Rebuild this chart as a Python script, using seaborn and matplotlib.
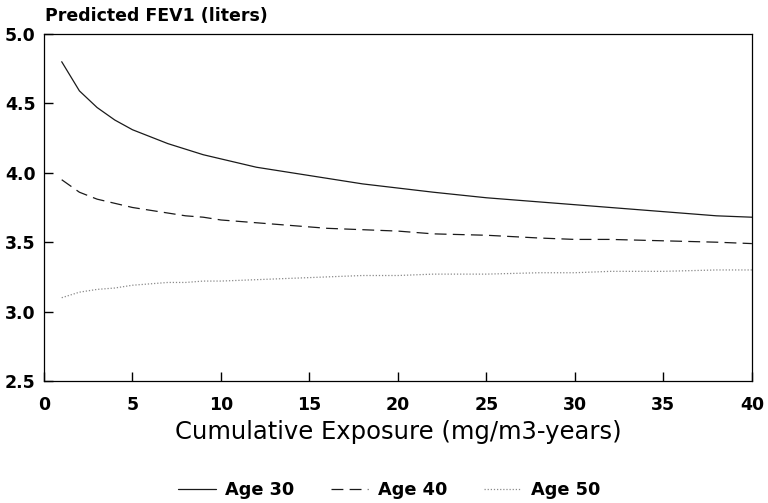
import matplotlib
matplotlib.use("Agg")
from matplotlib import pyplot as plt
import seaborn as sns
import pandas as pd

exposure = [1, 2, 3, 4, 5, 6, 7, 8, 9, 10, 12, 14, 16, 18, 20, 22, 25, 28, 30, 32, 35, 38, 40]
age30 = [4.80, 4.59, 4.47, 4.38, 4.31, 4.26, 4.21, 4.17, 4.13, 4.10, 4.04, 4.00, 3.96,
         3.92, 3.89, 3.86, 3.82, 3.79, 3.77, 3.75, 3.72, 3.69, 3.68]
age40 = [3.95, 3.86, 3.81, 3.78, 3.75, 3.73, 3.71, 3.69, 3.68, 3.66, 3.64, 3.62, 3.60,
         3.59, 3.58, 3.56, 3.55, 3.53, 3.52, 3.52, 3.51, 3.50, 3.49]
age50 = [3.10, 3.14, 3.16, 3.17, 3.19, 3.20, 3.21, 3.21, 3.22, 3.22, 3.23, 3.24, 3.25,
         3.26, 3.26, 3.27, 3.27, 3.28, 3.28, 3.29, 3.29, 3.30, 3.30]

series = ["Age 30", "Age 40", "Age 50"]
df = pd.DataFrame({
    "Exposure": exposure * 3,
    "FEV1": age30 + age40 + age50,
    "Group": [s for s in series for _ in exposure],
})

sns.set_style("ticks")
plt.rcParams["font.family"] = ["DejaVu Sans"]
plt.rcParams["text.color"] = "black"
plt.rcParams["axes.labelcolor"] = "black"

fig = plt.figure(figsize=(7.68, 5.03), dpi=100)
ax = fig.add_axes([0.0573, 0.2425, 0.9217, 0.69])

styles = {"Age 30": ("-", "#1a1a1a", 0.9),
          "Age 40": ((0, (9.5, 5)), "#1a1a1a", 0.9),
          "Age 50": ((0, (1, 1.5)), "#8a8a8a", 0.9)}
for name in series:
    ls, col, lw = styles[name]
    sns.lineplot(data=df[df["Group"] == name], x="Exposure", y="FEV1",
                 color=col, linestyle=ls, linewidth=lw, label=name, ax=ax)

ax.set_xlim(0, 40)
ax.set_ylim(2.5, 5.0)
ax.set_xticks(range(0, 41, 5))
ax.set_yticks([2.5, 3.0, 3.5, 4.0, 4.5, 5.0])
ax.set_yticklabels(["2.5", "3.0", "3.5", "4.0", "4.5", "5.0"])
ax.xaxis.set_ticks_position("bottom")
ax.yaxis.set_ticks_position("left")
ax.tick_params(axis="both", which="major", direction="in", length=6.5, width=1.0,
               color="black", labelcolor="black")
ax.tick_params(axis="x", pad=11)
ax.tick_params(axis="y", pad=6)
for lab in ax.get_xticklabels() + ax.get_yticklabels():
    lab.set_fontsize(12.5)
    lab.set_fontweight("bold")
for sp in ax.spines.values():
    sp.set_visible(True)
    sp.set_color("black")
    sp.set_linewidth(0.9)

ax.set_xlabel("Cumulative Exposure (mg/m3-years)", fontsize=17.5, labelpad=4,
              color="black")
ax.set_ylabel("")
fig.text(0.058, 1 - 21 / 503, "Predicted FEV1 (liters)", fontsize=12.5,
         fontweight="bold", ha="left", va="baseline", color="black")

handles, labels = ax.get_legend_handles_labels()
ax.get_legend().remove()
fig.legend(handles, labels, loc="center", bbox_to_anchor=(0.507, 0.026), ncol=3,
           frameon=False, prop={"size": 12.8, "weight": "bold"},
           handlelength=2.1, columnspacing=2.05, handletextpad=0.55,
           labelcolor="black")

fig.savefig("out.png", dpi=100)
